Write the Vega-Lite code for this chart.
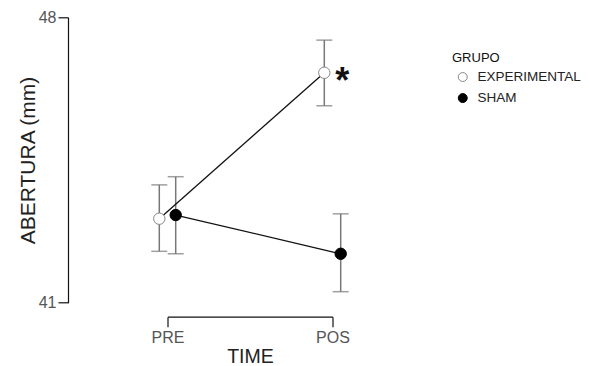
{
  "$schema": "https://vega.github.io/schema/vega-lite/v6.json",
  "width": 165,
  "height": 285.4,
  "autosize": "none",
  "padding": {"left": 167.5, "top": 17.3, "right": 256.5, "bottom": 63.3},
  "background": "white",
  "config": {
    "view": {"stroke": null},
    "font": "Liberation Sans",
    "axis": {"grid": false, "domainColor": "#111", "tickColor": "#111", "labelColor": "#555", "titleColor": "#222", "titleFontWeight": "normal", "labelFont": "Liberation Sans", "titleFont": "Liberation Sans"}
  },
  "data": {
    "values": [
      {"time": "PRE", "group": "EXPERIMENTAL", "mean": 43.06, "lower": 42.26, "upper": 43.89, "sig": ""},
      {"time": "PRE", "group": "SHAM", "mean": 43.15, "lower": 42.2, "upper": 44.09, "sig": ""},
      {"time": "POS", "group": "EXPERIMENTAL", "mean": 46.64, "lower": 45.83, "upper": 47.44, "sig": "*"},
      {"time": "POS", "group": "SHAM", "mean": 42.2, "lower": 41.27, "upper": 43.18, "sig": ""}
    ]
  },
  "encoding": {
    "x": {
      "field": "time", "type": "nominal",
      "scale": {"type": "point", "domain": ["PRE", "POS"], "padding": 0},
      "axis": {"title": "TIME", "labelAngle": 0, "offset": 14, "tickSize": 10, "labelFontSize": 16, "labelPadding": 3, "titleFontSize": 19.5, "titlePadding": 2, "domainWidth": 1.2, "tickWidth": 1.2}
    },
    "xOffset": {
      "field": "group", "type": "nominal",
      "scale": {"type": "point", "domain": ["EXPERIMENTAL", "SHAM"], "range": [-8.2, 8.2], "padding": 0}
    }
  },
  "layer": [
    {
      "mark": {"type": "rule", "color": "#777", "strokeWidth": 1.5},
      "encoding": {
        "y": {"field": "lower", "type": "quantitative", "scale": {"domain": [41, 48], "nice": false, "zero": false},
          "axis": {"title": "ABERTURA (mm)", "values": [41, 48], "offset": 99.5, "tickSize": 10, "labelFontSize": 16, "labelPadding": 2, "titleFontSize": 21, "titlePadding": 0, "domainWidth": 1.2, "tickWidth": 1.2}},
        "y2": {"field": "upper"}
      }
    },
    {
      "mark": {"type": "tick", "orient": "horizontal", "color": "#777", "size": 16, "thickness": 1.5},
      "encoding": {"y": {"field": "lower", "type": "quantitative"}}
    },
    {
      "mark": {"type": "tick", "orient": "horizontal", "color": "#777", "size": 16, "thickness": 1.5},
      "encoding": {"y": {"field": "upper", "type": "quantitative"}}
    },
    {
      "mark": {"type": "line", "color": "#111", "strokeWidth": 1.3},
      "encoding": {
        "y": {"field": "mean", "type": "quantitative"},
        "detail": {"field": "group"}
      }
    },
    {
      "mark": {"type": "point", "filled": false, "opacity": 1, "size": 130, "strokeWidth": 1},
      "encoding": {
        "y": {"field": "mean", "type": "quantitative"},
        "fill": {"field": "group", "type": "nominal", "scale": {"domain": ["EXPERIMENTAL", "SHAM"], "range": ["white", "black"]},
          "legend": {"title": "GRUPO", "orient": "none", "legendX": 284.5, "legendY": 35, "titleFontSize": 13, "titleFontWeight": "normal", "titleColor": "#111", "labelFontSize": 13.5, "labelColor": "#222", "symbolSize": 80, "symbolStrokeWidth": 1, "rowPadding": 6, "titlePadding": 5, "labelOffset": 8, "symbolOffset": 4}},
        "stroke": {"field": "group", "type": "nominal", "scale": {"domain": ["EXPERIMENTAL", "SHAM"], "range": ["#888", "black"]}, "legend": {"title": "GRUPO"}}
      }
    },
    {
      "mark": {"type": "text", "fontSize": 36, "fontWeight": "bold", "align": "center", "baseline": "alphabetic", "dx": 18, "dy": 20, "color": "#111"},
      "encoding": {
        "y": {"field": "mean", "type": "quantitative"},
        "text": {"field": "sig"}
      }
    }
  ]
}
